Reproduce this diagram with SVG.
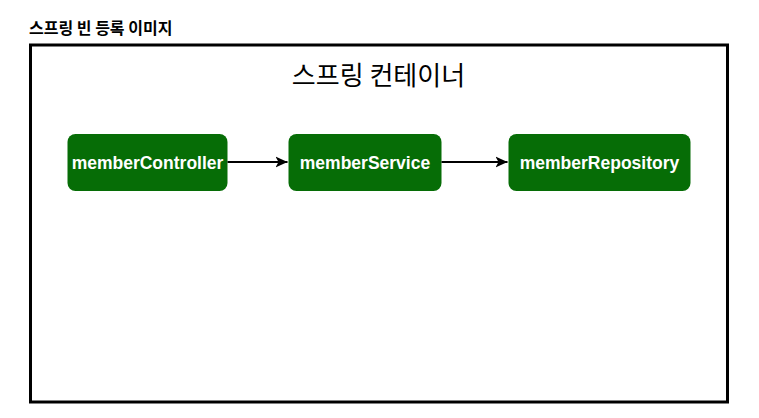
<svg xmlns="http://www.w3.org/2000/svg" width="759" height="418" viewBox="0 0 759 418">
<style>
.node rect{fill:#066d06;stroke:none}
.node text{fill:#ffffff;font-family:"Liberation Sans",Arial,sans-serif;font-size:17.5px;font-weight:bold;text-anchor:middle}
.conn line{stroke:#000;stroke-width:2}
</style>
<defs>
<marker id="arr" markerUnits="userSpaceOnUse" markerWidth="13" markerHeight="13" refX="12" refY="6.5" orient="auto">
<path d="M0,1 L12,6.5 L0,12 L3,6.5 Z" fill="#000"/>
</marker>
</defs>
<rect width="759" height="418" fill="#fff"/>
<text x="29" y="34" font-family="'Noto Sans CJK KR',sans-serif" font-size="16" font-weight="bold" fill="#000">스프링 빈 등록 이미지</text>
<g id="container">
<rect x="30.5" y="45" width="697" height="357" fill="none" stroke="#000" stroke-width="3"/>
<text x="378.5" y="85" font-family="'Noto Sans CJK KR',sans-serif" font-size="26" text-anchor="middle" fill="#000">스프링 컨테이너</text>
</g>
<g id="memberController" class="node">
<rect x="67.5" y="134" width="160" height="57" rx="8"/>
<text x="147.5" y="169">memberController</text>
</g>
<g id="memberService" class="node">
<rect x="288.5" y="134" width="153" height="57" rx="8"/>
<text x="365" y="169">memberService</text>
</g>
<g id="memberRepository" class="node">
<rect x="508.5" y="134" width="182" height="57" rx="8"/>
<text x="599.5" y="169">memberRepository</text>
</g>
<g id="connectors" class="conn">
<line x1="227.5" y1="162" x2="287.5" y2="162" marker-end="url(#arr)"/>
<line x1="441.5" y1="162" x2="507.5" y2="162" marker-end="url(#arr)"/>
</g>
</svg>
